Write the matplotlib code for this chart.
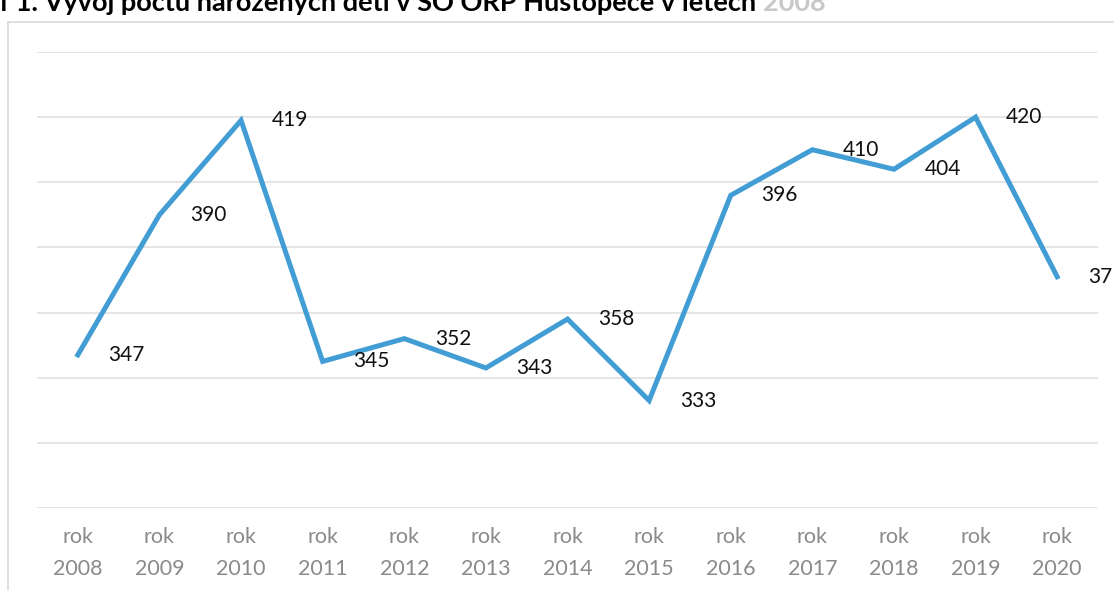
import matplotlib
matplotlib.use("Agg")
import matplotlib.pyplot as plt
from matplotlib.patches import Rectangle

# data
roky = ["2008", "2009", "2010", "2011", "2012", "2013", "2014",
        "2015", "2016", "2017", "2018", "2019", "2020"]
narozeni = [347, 390, 419, 345, 352, 343, 358, 333, 396, 410, 404, 420, 371]
popisky = [f"rok\n{r}" for r in roky]

plt.rcParams['font.family'] = ['Lato', 'DejaVu Sans']

fig = plt.figure(figsize=(11.14, 5.90), dpi=100)
ax = fig.add_axes([37/1114, 1 - 508/590, 1061/1114, 456/590])

# ramecek grafu
fig.patches.append(Rectangle((8/1114, -0.02), 1.05, 1 - 22/590 + 0.02,
                             transform=fig.transFigure, fill=False,
                             edgecolor='#d9d9d9', linewidth=1.2))

x = list(range(len(roky)))
ax.plot(x, narozeni, color='#429dd4', linewidth=3.6, solid_joinstyle='miter')

for xi, yi in zip(x, narozeni):
    ax.annotate(str(yi), (xi, yi), xytext=(22, 0), textcoords='offset points',
                ha='left', va='center', fontsize=15, color='#111111',
                annotation_clip=False)

ax.set_xlim(-0.5, len(roky) - 0.5)
ax.set_ylim(300, 440)
ax.set_yticks(range(300, 441, 20))
ax.set_yticklabels([])
ax.set_xticks(x)
ax.set_xticklabels(popisky, color='#8a8a8a', fontsize=15.5, linespacing=1.75)
ax.tick_params(axis='x', length=0, pad=14)
ax.tick_params(axis='y', length=0)
ax.grid(axis='y', color='#e3e3e3', linewidth=1.3)
ax.set_axisbelow(True)
for s in ax.spines.values():
    s.set_visible(False)

# nadpis (v predloze oriznuty nahore)
fs_t = 19.5
t1 = fig.text(0, 1 - 11/590, "Graf 1. Vývoj počtu narozených dětí v SO ORP Hustopeče v letech ",
              ha='left', va='baseline', fontsize=fs_t, fontweight='bold', color='black')
fig.canvas.draw()
r = fig.canvas.get_renderer()
pref = fig.text(0, 0.5, "Graf ", fontsize=fs_t, fontweight='bold')
w = pref.get_window_extent(r).width
pref.remove()
t1.set_x((16 - w) / 1114)
fig.canvas.draw()
bb = t1.get_window_extent(r)
fig.text(bb.x1 / 1114, 1 - 11/590, "2008", ha='left', va='baseline', fontsize=fs_t,
         fontweight='bold', color='#c8c8c8')

fig.savefig("out.png", dpi=100)
